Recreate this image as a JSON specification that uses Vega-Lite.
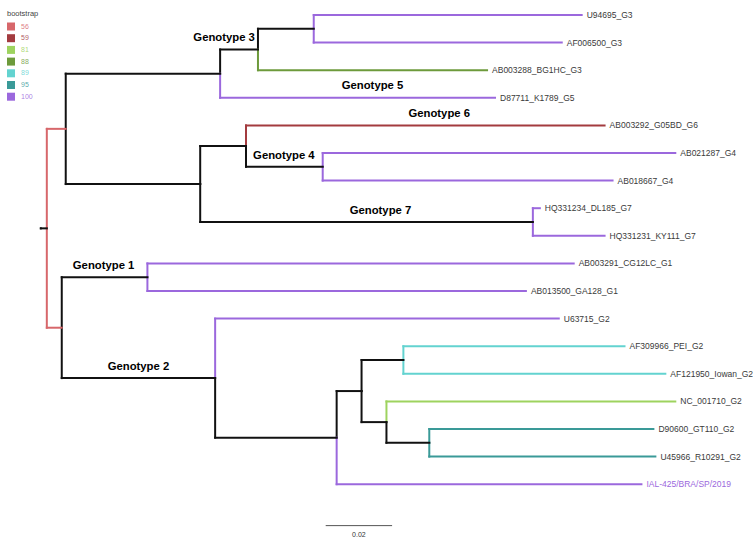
{
  "$schema": "https://vega.github.io/schema/vega-lite/v6.json",
  "width": 753,
  "height": 543,
  "padding": 0,
  "autosize": {"type": "fit", "contains": "padding"},
  "config": {"view": {"stroke": null}},
  "datasets": {
    "edges": [
      {"px": -0.0018, "py": 7.73, "cx": 0, "cy": 7.73, "s": "none", "label": null},
      {"px": 0, "py": 7.73, "cx": 0.0057, "cy": 4.125, "s": "56", "label": null},
      {"px": 0, "py": 7.73, "cx": 0.0045, "cy": 11.33, "s": "56", "label": null},
      {"px": 0.0057, "py": 4.125, "cx": 0.0522, "cy": 2.125, "s": "none", "label": null},
      {"px": 0.0522, "py": 2.125, "cx": 0.0636, "cy": 1.25, "s": "none", "label": null},
      {"px": 0.0636, "py": 1.25, "cx": 0.0804, "cy": 0.5, "s": "none", "label": null},
      {"px": 0.0804, "py": 0.5, "cx": 0.1611, "cy": 0, "s": "100", "label": "U94695_G3"},
      {"px": 0.0804, "py": 0.5, "cx": 0.1551, "cy": 1, "s": "100", "label": "AF006500_G3"},
      {"px": 0.0636, "py": 1.25, "cx": 0.1326, "cy": 2, "s": "88", "label": "AB003288_BG1HC_G3"},
      {"px": 0.0522, "py": 2.125, "cx": 0.1350, "cy": 3, "s": "100", "label": "D87711_K1789_G5"},
      {"px": 0.0057, "py": 4.125, "cx": 0.0462, "cy": 6.125, "s": "none", "label": null},
      {"px": 0.0462, "py": 6.125, "cx": 0.0600, "cy": 4.75, "s": "none", "label": null},
      {"px": 0.0600, "py": 4.75, "cx": 0.1680, "cy": 4, "s": "59", "label": "AB003292_G05BD_G6"},
      {"px": 0.0600, "py": 4.75, "cx": 0.0831, "cy": 5.5, "s": "none", "label": null},
      {"px": 0.0831, "py": 5.5, "cx": 0.1893, "cy": 5, "s": "100", "label": "AB021287_G4"},
      {"px": 0.0831, "py": 5.5, "cx": 0.1704, "cy": 6, "s": "100", "label": "AB018667_G4"},
      {"px": 0.0462, "py": 6.125, "cx": 0.1464, "cy": 7.5, "s": "none", "label": null},
      {"px": 0.1464, "py": 7.5, "cx": 0.1485, "cy": 7, "s": "100", "label": "HQ331234_DL185_G7"},
      {"px": 0.1464, "py": 7.5, "cx": 0.1680, "cy": 8, "s": "100", "label": "HQ331231_KY111_G7"},
      {"px": 0.0045, "py": 11.33, "cx": 0.0303, "cy": 9.5, "s": "none", "label": null},
      {"px": 0.0303, "py": 9.5, "cx": 0.1587, "cy": 9, "s": "100", "label": "AB003291_CG12LC_G1"},
      {"px": 0.0303, "py": 9.5, "cx": 0.1443, "cy": 10, "s": "100", "label": "AB013500_GA128_G1"},
      {"px": 0.0045, "py": 11.33, "cx": 0.0507, "cy": 13.156, "s": "none", "label": null},
      {"px": 0.0507, "py": 13.156, "cx": 0.1542, "cy": 11, "s": "100", "label": "U63715_G2"},
      {"px": 0.0507, "py": 13.156, "cx": 0.0873, "cy": 15.3125, "s": "none", "label": null},
      {"px": 0.0873, "py": 15.3125, "cx": 0.0948, "cy": 13.625, "s": "none", "label": null},
      {"px": 0.0873, "py": 15.3125, "cx": 0.1791, "cy": 17, "s": "100", "label": "IAL-425/BRA/SP/2019"},
      {"px": 0.0948, "py": 13.625, "cx": 0.1074, "cy": 12.5, "s": "none", "label": null},
      {"px": 0.1074, "py": 12.5, "cx": 0.1740, "cy": 12, "s": "89", "label": "AF309966_PEI_G2"},
      {"px": 0.1074, "py": 12.5, "cx": 0.1863, "cy": 13, "s": "89", "label": "AF121950_Iowan_G2"},
      {"px": 0.0948, "py": 13.625, "cx": 0.1023, "cy": 14.75, "s": "none", "label": null},
      {"px": 0.1023, "py": 14.75, "cx": 0.1893, "cy": 14, "s": "81", "label": "NC_001710_G2"},
      {"px": 0.1023, "py": 14.75, "cx": 0.1152, "cy": 15.5, "s": "none", "label": null},
      {"px": 0.1152, "py": 15.5, "cx": 0.1827, "cy": 15, "s": "95", "label": "D90600_GT110_G2"},
      {"px": 0.1152, "py": 15.5, "cx": 0.1833, "cy": 16, "s": "95", "label": "U45966_R10291_G2"}
    ],
    "clades": [
      {"name": "Genotype 3", "x": 0.0534, "y": 0.83},
      {"name": "Genotype 5", "x": 0.0981, "y": 2.57},
      {"name": "Genotype 6", "x": 0.1182, "y": 3.59},
      {"name": "Genotype 4", "x": 0.0714, "y": 5.11},
      {"name": "Genotype 7", "x": 0.1005, "y": 7.1},
      {"name": "Genotype 1", "x": 0.0171, "y": 9.09},
      {"name": "Genotype 2", "x": 0.0276, "y": 12.75}
    ],
    "scalebar": [
      {"x": 0.084, "x2": 0.104, "xm": 0.094, "y": 18.5, "label": "0.02"}
    ]
  },
  "layer": [
    {
      "data": {"name": "edges"},
      "mark": {"type": "rule", "strokeWidth": 2, "strokeCap": "square"},
      "encoding": {
        "x": {"field": "px", "type": "quantitative", "scale": {"domain": [-0.0141, 0.2118], "nice": false, "zero": false}, "axis": null},
        "y": {"field": "py", "type": "quantitative", "scale": {"domain": [-0.5435, 19.13], "nice": false, "zero": false, "reverse": true}, "axis": null},
        "y2": {"field": "cy"},
        "color": {
          "field": "s", "type": "nominal",
          "scale": {
            "domain": ["56", "59", "81", "88", "89", "95", "100", "none"],
            "range": ["#d7676b", "#a33b3f", "#9ed35f", "#6d9a3b", "#63d3d0", "#3a9a98", "#9b68dd", "#111111"]
          },
          "legend": {
            "title": "bootstrap",
            "values": ["56", "59", "81", "88", "89", "95", "100"],
            "orient": "none",
            "legendX": 7,
            "legendY": 10,
            "titleFontSize": 7.5,
            "titleFontWeight": "normal",
            "titleColor": "#444444",
            "titleFont": "Liberation Sans",
            "titlePadding": 5,
            "labelFontSize": 7,
            "labelFont": "Liberation Sans",
            "labelOffset": 6,
            "symbolType": "square",
            "symbolSize": 64,
            "rowPadding": 3.7,
            "encode": {
              "labels": {"update": {"fill": {"scale": "color", "field": "value"}, "fillOpacity": {"value": 0.85}}},
              "symbols": {"update": {"fill": {"scale": "color", "field": "value"}, "fillOpacity": {"value": 1}, "strokeWidth": {"value": 0}}}
            }
          }
        }
      }
    },
    {
      "data": {"name": "edges"},
      "mark": {"type": "rule", "strokeWidth": 2, "strokeCap": "square"},
      "encoding": {
        "x": {"field": "px", "type": "quantitative"},
        "x2": {"field": "cx"},
        "y": {"field": "cy", "type": "quantitative"},
        "color": {"field": "s", "type": "nominal"}
      }
    },
    {
      "data": {"name": "edges"},
      "transform": [{"filter": "datum.label != null"}],
      "mark": {"type": "text", "align": "left", "baseline": "middle", "dx": 5, "fontSize": 8.5, "font": "Liberation Sans"},
      "encoding": {
        "x": {"field": "cx", "type": "quantitative"},
        "y": {"field": "cy", "type": "quantitative"},
        "text": {"field": "label"},
        "color": {
          "condition": {"test": "datum.label === 'IAL-425/BRA/SP/2019'", "value": "#9b68dd"},
          "value": "#3a3a3a"
        }
      }
    },
    {
      "data": {"name": "clades"},
      "mark": {"type": "text", "align": "center", "baseline": "middle", "fontSize": 11.3, "fontWeight": "bold", "font": "Liberation Sans", "color": "#000000"},
      "encoding": {
        "x": {"field": "x", "type": "quantitative"},
        "y": {"field": "y", "type": "quantitative"},
        "text": {"field": "name"}
      }
    },
    {
      "data": {"name": "scalebar"},
      "mark": {"type": "rule", "strokeWidth": 1, "color": "#555555"},
      "encoding": {
        "x": {"field": "x", "type": "quantitative"},
        "x2": {"field": "x2"},
        "y": {"field": "y", "type": "quantitative"}
      }
    },
    {
      "data": {"name": "scalebar"},
      "mark": {"type": "text", "align": "center", "baseline": "top", "dy": 5, "fontSize": 7, "font": "Liberation Sans", "color": "#333333"},
      "encoding": {
        "x": {"field": "xm", "type": "quantitative"},
        "y": {"field": "y", "type": "quantitative"},
        "text": {"field": "label"}
      }
    }
  ]
}
